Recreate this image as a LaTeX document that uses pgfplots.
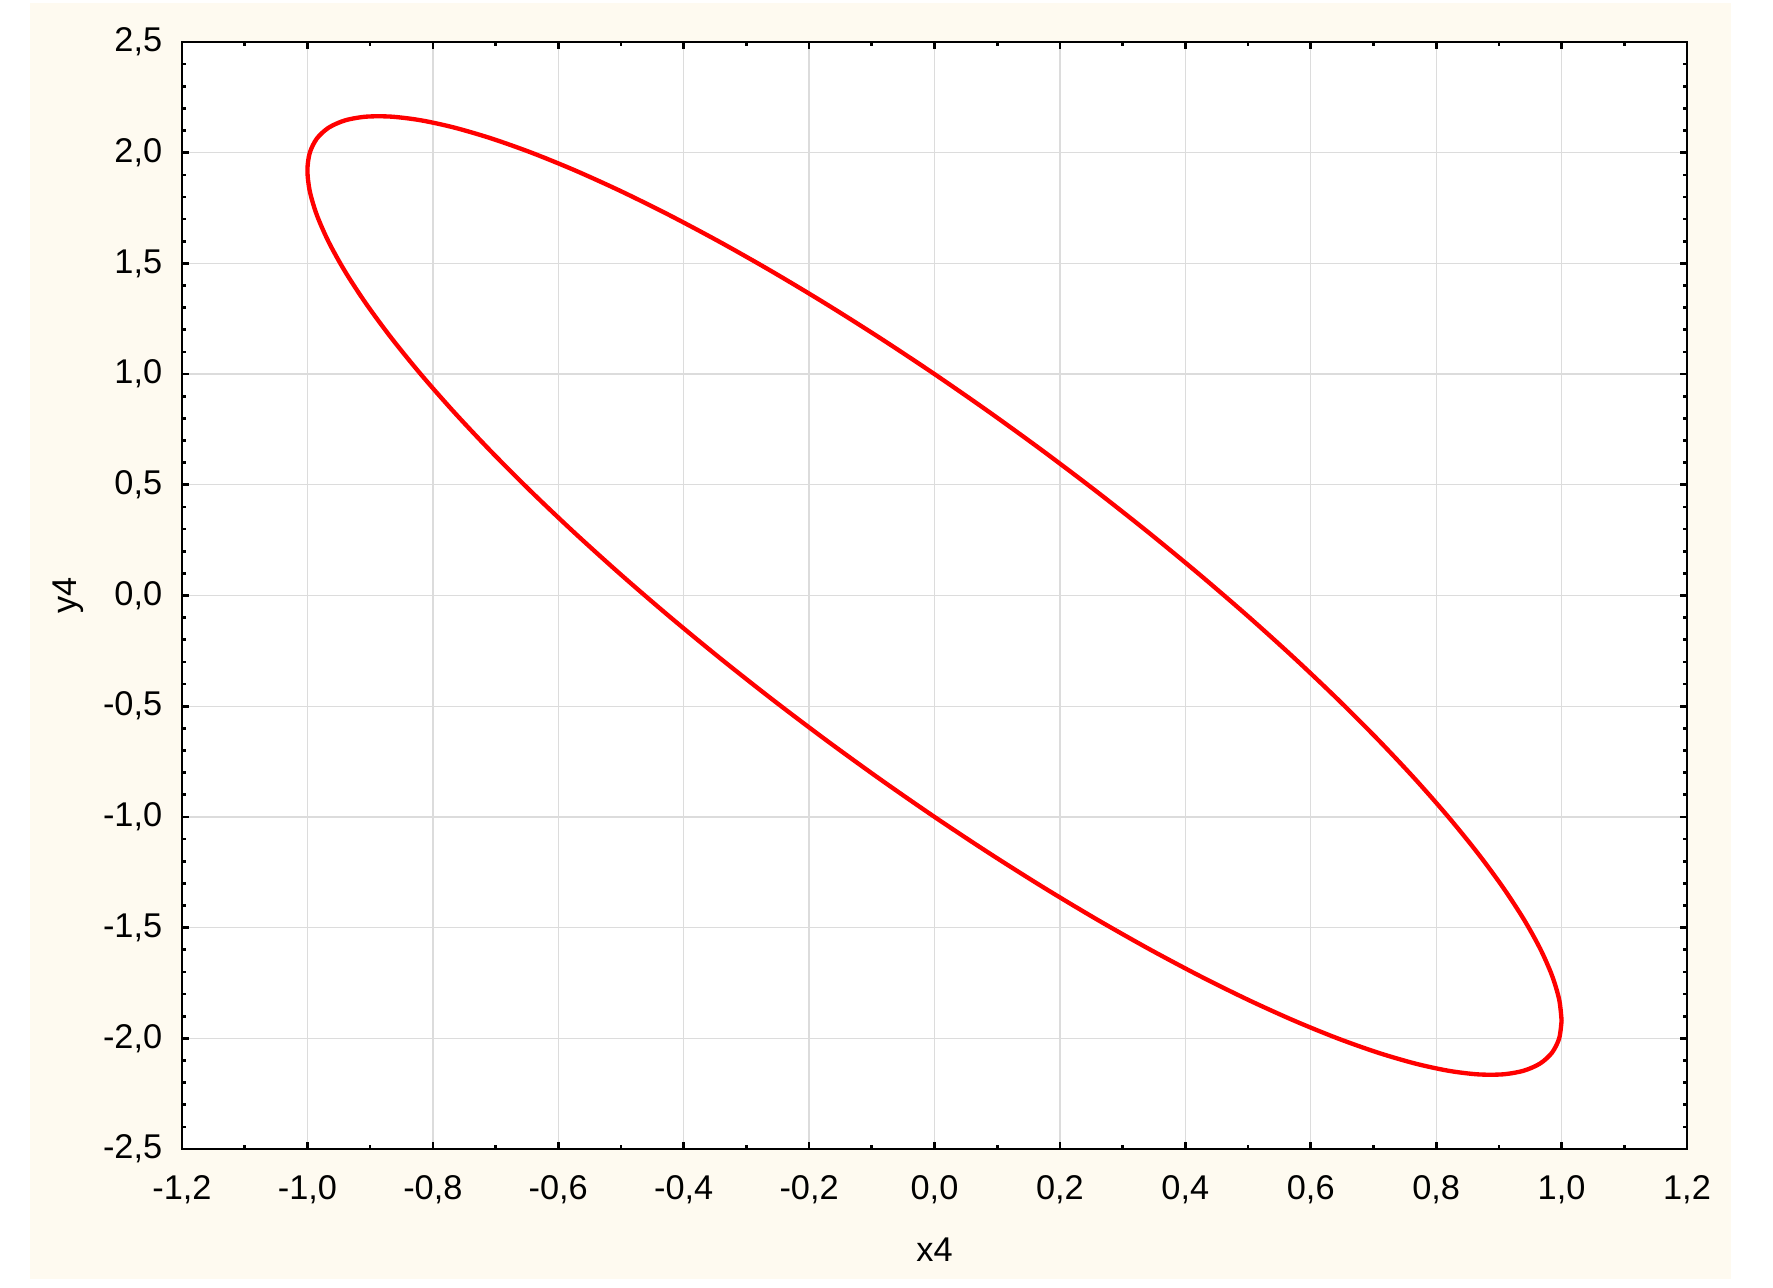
\documentclass[border=0pt]{standalone}
\usepackage{fontspec}
\setmainfont{Liberation Sans}
\usepackage{pgfplots}
\pgfplotsset{compat=1.18}
\definecolor{cream}{RGB}{254,250,240}
\definecolor{gridgray}{RGB}{220,220,220}
\begin{document}
\begin{tikzpicture}[x=1pt,y=1pt]
\fill[white] (0,0) rectangle (531.9,386.1);
\fill[cream] (9,2.4) rectangle (519.3,385.2);
\begin{axis}[
  at={(54.6pt,41.4pt)}, anchor=south west,
  scale only axis, width=451.5pt, height=332.1pt,
  xmin=-1.2, xmax=1.2, ymin=-2.5, ymax=2.5,
  axis background/.style={fill=white},
  axis line style={black, line width=0.8pt},
  xtick={-1.2,-1,-0.8,-0.6,-0.4,-0.2,0,0.2,0.4,0.6,0.8,1,1.2},
  xticklabels={{-1,2},{-1,0},{-0,8},{-0,6},{-0,4},{-0,2},{0,0},{0,2},{0,4},{0,6},{0,8},{1,0},{1,2}},
  ytick={-2.5,-2,-1.5,-1,-0.5,0,0.5,1,1.5,2,2.5},
  yticklabels={{-2,5},{-2,0},{-1,5},{-1,0},{-0,5},{0,0},{0,5},{1,0},{1,5},{2,0},{2,5}},
  minor x tick num=1, minor y tick num=4,
  tick align=inside,
  major tick length=2pt, minor tick length=1.1pt,
  every tick/.style={black, line width=0.8pt},
  grid=major,
  major grid style={gridgray, line width=0.4pt},
  tick label style={font=\fontsize{10.3}{12}\selectfont},
  xticklabel style={yshift=-4.5pt},
  yticklabel style={xshift=-2.4pt},
  xlabel={x4}, ylabel={y4},
  label style={font=\fontsize{10.3}{12}\selectfont},
  xlabel style={at={(axis description cs:0.5,0)}, anchor=north, yshift=-23pt},
  ylabel style={at={(axis description cs:0,0.5)}, anchor=center, rotate=0, xshift=0pt, yshift=34pt},
]
\addplot[red, line width=1.3pt, smooth] coordinates {
(1.00000,-1.92000)
(0.99619,-1.99985)
(0.98481,-2.06448)
(0.96593,-2.11340)
(0.93969,-2.14623)
(0.90631,-2.16273)
(0.86603,-2.16278)
(0.81915,-2.14635)
(0.76604,-2.11359)
(0.70711,-2.06476)
(0.64279,-2.00020)
(0.57358,-1.92042)
(0.50000,-1.82603)
(0.42262,-1.71774)
(0.34202,-1.59637)
(0.25882,-1.46286)
(0.17365,-1.31822)
(0.08716,-1.16354)
(0.00000,-1.00000)
(-0.08716,-0.82884)
(-0.17365,-0.65140)
(-0.25882,-0.46900)
(-0.34202,-0.28301)
(-0.42262,-0.09488)
(-0.50000,0.09397)
(-0.57358,0.28212)
(-0.64279,0.46812)
(-0.70711,0.65054)
(-0.76604,0.82801)
(-0.81915,0.99919)
(-0.86603,1.16278)
(-0.90631,1.31749)
(-0.93969,1.46219)
(-0.96593,1.59576)
(-0.98481,1.71718)
(-0.99619,1.82553)
(-1.00000,1.92000)
(-0.99619,1.99985)
(-0.98481,2.06448)
(-0.96593,2.11340)
(-0.93969,2.14623)
(-0.90631,2.16273)
(-0.86603,2.16278)
(-0.81915,2.14635)
(-0.76604,2.11359)
(-0.70711,2.06476)
(-0.64279,2.00020)
(-0.57358,1.92042)
(-0.50000,1.82603)
(-0.42262,1.71774)
(-0.34202,1.59637)
(-0.25882,1.46286)
(-0.17365,1.31822)
(-0.08716,1.16354)
(0.00000,1.00000)
(0.08716,0.82884)
(0.17365,0.65140)
(0.25882,0.46900)
(0.34202,0.28301)
(0.42262,0.09488)
(0.50000,-0.09397)
(0.57358,-0.28212)
(0.64279,-0.46812)
(0.70711,-0.65054)
(0.76604,-0.82801)
(0.81915,-0.99919)
(0.86603,-1.16278)
(0.90631,-1.31749)
(0.93969,-1.46219)
(0.96593,-1.59576)
(0.98481,-1.71718)
(0.99619,-1.82553)
(1.00000,-1.92000)
};
\end{axis}
\end{tikzpicture}
\end{document}
